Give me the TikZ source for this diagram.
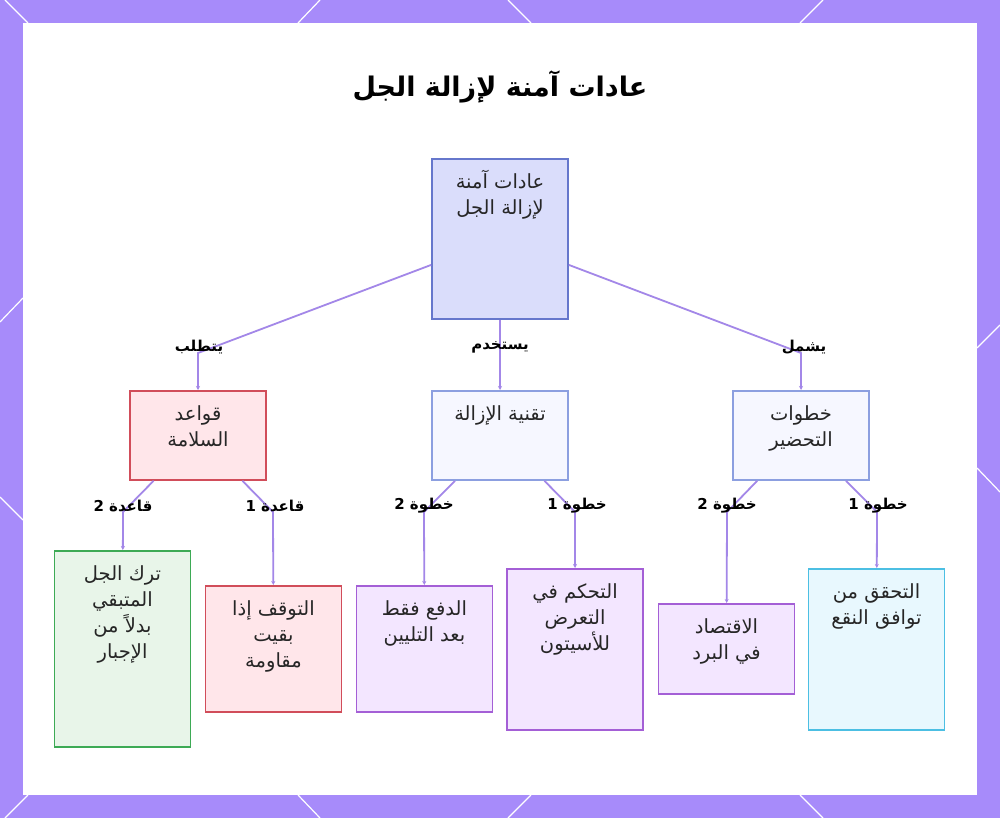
\documentclass[tikz,border=0pt]{standalone}
\usepackage{fontspec}
\usetikzlibrary{arrows.meta}
\newfontfamily\arabicfont[Script=Arabic]{DejaVu Sans}
\TeXXeTstate=1
\newcommand{\ar}[1]{\beginR #1\endR}

\definecolor{framepurple}{HTML}{A78BFA}
\definecolor{linkpurple}{HTML}{A387E8}
\definecolor{textdark}{HTML}{262626}
\definecolor{rootfill}{HTML}{DADDFB}
\definecolor{rootline}{HTML}{6677CC}
\definecolor{bluefill}{HTML}{F6F7FF}
\definecolor{blueline}{HTML}{8C9FE0}
\definecolor{redfill}{HTML}{FFE6EA}
\definecolor{redline}{HTML}{D14D5A}
\definecolor{greenfill}{HTML}{E8F5E9}
\definecolor{greenline}{HTML}{3DAA55}
\definecolor{purplefill}{HTML}{F3E6FF}
\definecolor{purpleline}{HTML}{A45FD6}
\definecolor{cyanfill}{HTML}{E8F8FE}
\definecolor{cyanline}{HTML}{4CBFE3}

\tikzstyle{box} = [rectangle, line width=1.8pt, align=center, anchor=north, minimum width=136pt, inner xsep=4pt, inner ysep=0pt, text=textdark, font=\arabicfont\fontsize{19.5}{26}\selectfont]
\tikzstyle{rootbox} = [box, fill=rootfill, draw=rootline]
\tikzstyle{bluebox} = [box, fill=bluefill, draw=blueline]
\tikzstyle{redbox} = [box, fill=redfill, draw=redline]
\tikzstyle{greenbox} = [box, fill=greenfill, draw=greenline]
\tikzstyle{purplebox} = [box, fill=purplefill, draw=purpleline]
\tikzstyle{cyanbox} = [box, fill=cyanfill, draw=cyanline]
\tikzstyle{edgelabel} = [text=black, font=\arabicfont\bfseries\fontsize{15}{17}\selectfont]
\tikzstyle{link} = [line width=1.8pt, draw=linkpurple, -{Stealth[length=4pt,width=4pt]}]

\begin{document}
\begin{tikzpicture}[x=1pt, y=-1pt]
    \useasboundingbox (0,0) rectangle (1000,818);
    % frame and card
    \fill[framepurple] (0,0) rectangle (1000,818);
    \fill[white] (23,23) rectangle (977,795);
    \draw[white, line width=1.2pt] (5,0) -- (28,23) (320,0) -- (298,23) (508,0) -- (531,23) (823,0) -- (800,23);
    \draw[white, line width=1.2pt] (28,795) -- (5,818) (298,795) -- (320,818) (531,795) -- (508,818) (800,795) -- (823,818);
    \draw[white, line width=1.2pt] (0,322) -- (23,298) (0,497) -- (23,520);
    \draw[white, line width=1.2pt] (977,348) -- (1000,325) (977,468) -- (1000,492);

    \node (title) at (500,87) [font=\arabicfont\bfseries\fontsize{27}{31}\selectfont] {\ar{عادات آمنة لإزالة الجل}};

    % level 1 and 2
    \node (root) at (500,158) [rootbox, text height=56pt, text depth=104pt] {\ar{عادات آمنة}\\\ar{لإزالة الجل}};
    \node (rules) at (198,390) [redbox, text height=56pt, text depth=33pt] {\ar{قواعد}\\\ar{السلامة}};
    \node (technique) at (500,390) [bluebox, text height=30pt, text depth=59pt] {\ar{تقنية الإزالة}};
    \node (prep) at (801,390) [bluebox, text height=56pt, text depth=33pt] {\ar{خطوات}\\\ar{التحضير}};

    % leaves
    \node (keepLeaf) at (122.5,550) [greenbox, text height=108pt, text depth=88pt] {\ar{ترك الجل}\\\ar{المتبقي}\\\ar{بدلاً من}\\\ar{الإجبار}};
    \node (stopLeaf) at (273.5,585) [redbox, text height=82pt, text depth=44pt] {\ar{التوقف إذا}\\\ar{بقيت}\\\ar{مقاومة}};
    \node (pushLeaf) at (424.5,585) [purplebox, text height=56pt, text depth=70pt] {\ar{الدفع فقط}\\\ar{بعد التليين}};
    \node (acetoneLeaf) at (575,568) [purplebox, text height=82pt, text depth=79pt] {\ar{التحكم في}\\\ar{التعرض}\\\ar{للأسيتون}};
    \node (coldLeaf) at (726.5,603) [purplebox, text height=56pt, text depth=34pt] {\ar{الاقتصاد}\\\ar{في البرد}};
    \node (soakLeaf) at (876.5,568) [cyanbox, text height=56pt, text depth=105pt] {\ar{التحقق من}\\\ar{توافق النقع}};

    % bends
    \coordinate (reqBend) at (198,353);
    \coordinate (useBend) at (500,353);
    \coordinate (incBend) at (801,353);
    \coordinate (rule2Bend) at (123,512);
    \coordinate (rule1Bend) at (273,512);
    \coordinate (tech2Bend) at (424,512);
    \coordinate (tech1Bend) at (575,512);
    \coordinate (prep2Bend) at (727,512);
    \coordinate (prep1Bend) at (877,512);

    \draw [link] (root) -- (reqBend) -- (rules);
    \draw [link] (root) -- (useBend) -- (technique);
    \draw [link] (root) -- (incBend) -- (prep);
    \draw [link] (rules) -- (rule2Bend) -- (keepLeaf);
    \draw [link] (rules) -- (rule1Bend) -- (stopLeaf);
    \draw [link] (technique) -- (tech2Bend) -- (pushLeaf);
    \draw [link] (technique) -- (tech1Bend) -- (acetoneLeaf);
    \draw [link] (prep) -- (prep2Bend) -- (coldLeaf);
    \draw [link] (prep) -- (prep1Bend) -- (soakLeaf);

    % edge labels
    \node (reqLabel) at (199,347) [edgelabel] {\ar{يتطلب}};
    \node (useLabel) at (500,347) [edgelabel] {\ar{يستخدم}};
    \node (incLabel) at (804,347) [edgelabel] {\ar{يشمل}};
    \node (rule2Label) at (123,506) [edgelabel] {\ar{قاعدة 2}};
    \node (rule1Label) at (275,506) [edgelabel] {\ar{قاعدة 1}};
    \node (tech2Label) at (424,506) [edgelabel] {\ar{خطوة 2}};
    \node (tech1Label) at (577,506) [edgelabel] {\ar{خطوة 1}};
    \node (prep2Label) at (727,506) [edgelabel] {\ar{خطوة 2}};
    \node (prep1Label) at (878,506) [edgelabel] {\ar{خطوة 1}};
\end{tikzpicture}
\end{document}
